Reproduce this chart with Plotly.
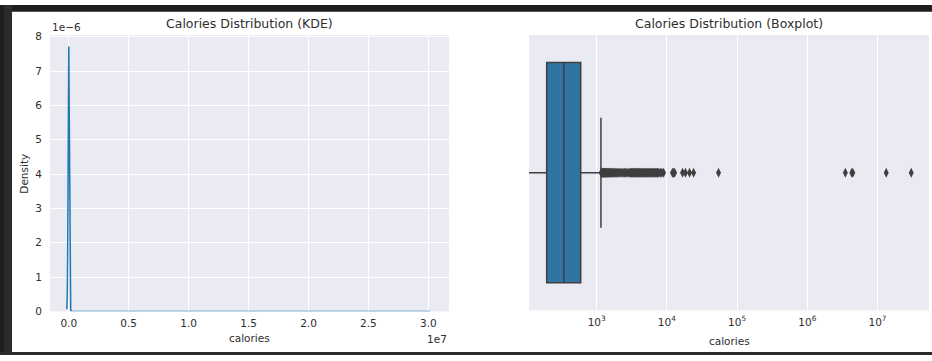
import plotly.graph_objects as go

# ---------------- data ----------------
# KDE curve of calories (x in calories, y density in units of 1e-6)
kde_x = [-160000, -120000, -80000, -40000, 0, 40000, 80000, 120000, 160000,
         200000, 300000, 1000000, 3500000, 4300000, 13000000, 30000000, 30150000]
kde_y_e6 = [0.06, 0.52, 2.34, 5.72, 7.72, 5.72, 2.33, 0.52, 0.064,
            0.004, 0.0, 0.0, 0.0005, 0.0005, 0.0002, 0.0002, 0.0]

kde_xticks = [0, 5e6, 1e7, 1.5e7, 2e7, 2.5e7, 3e7]
kde_xticklabels = ["0.0", "0.5", "1.0", "1.5", "2.0", "2.5", "3.0"]
kde_yticks = [0, 1e-6, 2e-6, 3e-6, 4e-6, 5e-6, 6e-6, 7e-6, 8e-6]
kde_yticklabels = ["0", "1", "2", "3", "4", "5", "6", "7", "8"]

# Boxplot summary statistics (calories)
box_q1 = 194
box_median = 340
box_q3 = 592
box_lowerfence = 1      # minimum is ~0, lies off the left of the log axis
box_upperfence = 1150

# Outliers (calories)
outliers = [1160, 1180, 1200, 1210, 1225, 1240, 1255, 1270, 1290, 1310, 1330,
            1350, 1375, 1400, 1425, 1450, 1480, 1510, 1540, 1575, 1610, 1650,
            1690, 1730, 1780, 1830, 1880, 1940, 2000, 2070, 2140, 2220, 2300,
            2390, 2480, 2580, 2690, 2800, 2920, 3050, 3120, 3190, 3260, 3340,
            3420, 3500, 3580, 3670, 3760, 3850, 3950, 4050, 4150, 4260, 4370,
            4480, 4600, 4720, 4850, 4980, 5110, 5250, 5390, 5540, 5700, 5850,
            6000, 6180, 6350, 6530, 6700, 6900, 7100, 7300, 7500, 7700, 8100,
            8500, 8970, 12000, 12450, 12900, 16700, 18400, 21000, 24000,
            54400, 3480000, 4300000, 4450000, 13300000, 30200000]

box_xticks = [1e3, 1e4, 1e5, 1e6, 1e7]
box_xticklabels = ["10<sup>3</sup>", "10<sup>4</sup>", "10<sup>5</sup>",
                   "10<sup>6</sup>", "10<sup>7</sup>"]

# ---------------- figure ----------------
W, H = 932, 361
FONT = "DejaVu Sans"
TXT = "#2e2e2e"
GRID = "white"
BG = "#eaeaf2"

def px_x(p):
    return p / W

def px_y(p):
    return 1 - p / H

fig = go.Figure()

fig.add_trace(go.Scatter(
    x=kde_x, y=[v * 1e-6 for v in kde_y_e6], mode="lines",
    line=dict(color="#1f77b4", width=1.5), xaxis="x", yaxis="y",
    showlegend=False, hoverinfo="skip"))

fig.add_trace(go.Box(
    y=[0], q1=[box_q1], median=[box_median], q3=[box_q3],
    lowerfence=[box_lowerfence], upperfence=[box_upperfence],
    orientation="h", width=0.8, whiskerwidth=0.5,
    fillcolor="#3274a1", line=dict(color="#3f3f3f", width=1.5),
    xaxis="x2", yaxis="y2", showlegend=False, hoverinfo="skip"))

fig.add_trace(go.Scatter(
    x=outliers, y=[0] * len(outliers), mode="markers",
    marker=dict(symbol="diamond-tall", size=7, color="#3f3f3f",
                line=dict(width=0)),
    xaxis="x2", yaxis="y2", showlegend=False, hoverinfo="skip"))

tickfont = dict(family=FONT, size=10.5, color=TXT)

fig.update_layout(
    width=W, height=H,
    margin=dict(l=0, r=0, t=0, b=0),
    paper_bgcolor="white", plot_bgcolor=BG,
    font=dict(family=FONT, color=TXT),
    xaxis=dict(domain=[px_x(50), px_x(449)], anchor="y",
               range=[-1.567e6, 3.1725e7],
               tickvals=kde_xticks, ticktext=kde_xticklabels,
               showgrid=True, gridcolor=GRID, gridwidth=1, zeroline=False,
               showline=False, ticks="", tickfont=tickfont,
               ticklabelstandoff=4),
    yaxis=dict(domain=[px_y(316), px_y(31)], anchor="x",
               range=[0, 8.05e-6],
               tickvals=kde_yticks, ticktext=kde_yticklabels,
               showgrid=True, gridcolor=GRID, gridwidth=1, zeroline=False,
               showline=False, ticks="", tickfont=tickfont,
               ticklabelstandoff=7),
    xaxis2=dict(domain=[px_x(529), px_x(929)], anchor="y2", type="log",
                range=[2.036, 7.733],
                tickvals=box_xticks, ticktext=box_xticklabels,
                showgrid=True, gridcolor=GRID, gridwidth=1, zeroline=False,
                showline=False, ticks="", tickfont=tickfont,
                ticklabelstandoff=4),
    yaxis2=dict(domain=[px_y(315), px_y(31)], anchor="x2", type="linear",
                range=[-0.5, 0.5], showgrid=False, zeroline=False,
                showticklabels=False, ticks="", showline=False),
)

annos = [
    dict(text="Calories Distribution (KDE)", x=px_x(249.5), y=px_y(19),
         size=12.5, xanchor="center"),
    dict(text="Calories Distribution (Boxplot)", x=px_x(729), y=px_y(19),
         size=12.5, xanchor="center"),
    dict(text="calories", x=px_x(249.5), y=px_y(343), size=10.5,
         xanchor="center"),
    dict(text="calories", x=px_x(729), y=px_y(347), size=10.5,
         xanchor="center"),
    dict(text="1e\u22126", x=px_x(50), y=px_y(23), size=10.5,
         xanchor="left"),
    dict(text="1e7", x=px_x(449), y=px_y(344), size=10.5,
         xanchor="right"),
]
for a in annos:
    fig.add_annotation(text=a["text"], x=a["x"], y=a["y"], xref="paper",
                       yref="paper", xanchor=a["xanchor"], yanchor="middle",
                       showarrow=False,
                       font=dict(family=FONT, size=a["size"], color=TXT))
fig.add_annotation(text="Density", x=px_x(24), y=px_y(174), xref="paper",
                   yref="paper", xanchor="center", yanchor="middle",
                   showarrow=False, textangle=-90,
                   font=dict(family=FONT, size=10.5, color=TXT))

# dark notebook frame around the output cell
frame = [
    dict(x0=0, x1=1, y0=px_y(7), y1=1, color="#1e1e1e"),
    dict(x0=0, x1=px_x(12), y0=0, y1=1, color="#2b2b2b"),
    dict(x0=0, x1=px_x(4), y0=0, y1=1, color="#1e1e1e"),
    dict(x0=0, x1=1, y0=0, y1=px_y(358), color="#2b2b2b"),
]
for f in frame:
    fig.add_shape(type="rect", xref="paper", yref="paper", x0=f["x0"],
                  x1=f["x1"], y0=f["y0"], y1=f["y1"], fillcolor=f["color"],
                  line=dict(width=0), layer="above")

fig.write_html("out.html")
